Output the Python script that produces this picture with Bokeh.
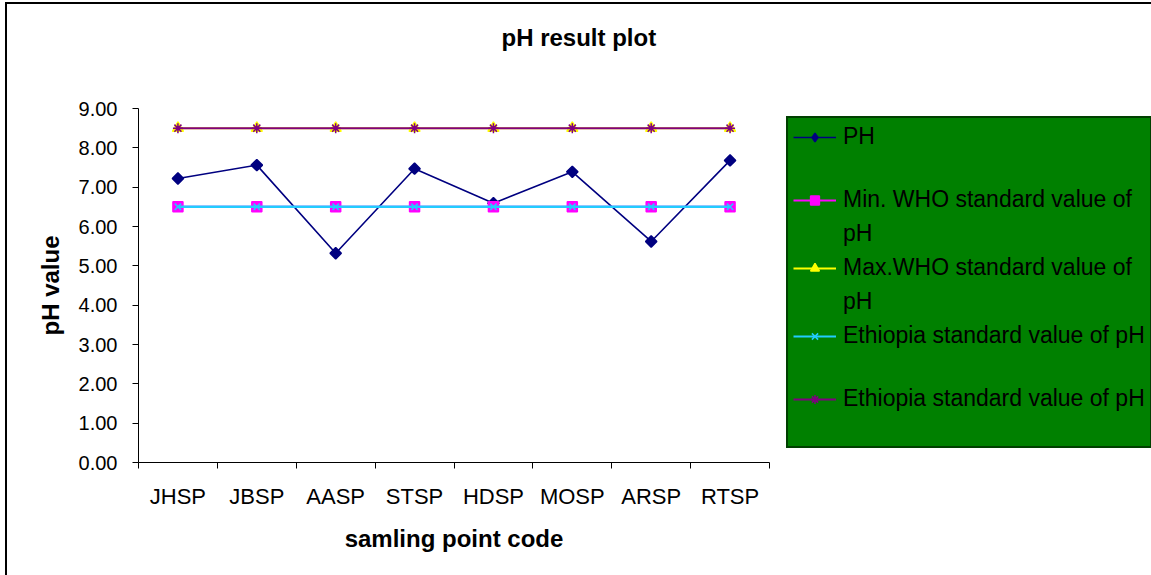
import math

from bokeh.plotting import figure
from bokeh.layouts import row
from bokeh.models import (FixedTicker, NumeralTickFormatter, Legend, LegendItem,
                          Range1d, Title)
from bokeh.embed import file_html
from bokeh.resources import INLINE

# sampling points and measured values
sites = ["JHSP", "JBSP", "AASP", "STSP", "HDSP", "MOSP", "ARSP", "RTSP"]
ph = [7.22, 7.56, 5.32, 7.47, 6.59, 7.39, 5.62, 7.68]
who_min = [6.5, 6.5, 6.5, 6.5, 6.5, 6.5, 6.5, 6.5]
who_max = [8.5, 8.5, 8.5, 8.5, 8.5, 8.5, 8.5, 8.5]
eth_min = [6.5, 6.5, 6.5, 6.5, 6.5, 6.5, 6.5, 6.5]
eth_max = [8.5, 8.5, 8.5, 8.5, 8.5, 8.5, 8.5, 8.5]
y_ticks = [0, 1, 2, 3, 4, 5, 6, 7, 8, 9]

FONT = "Liberation Sans"

# series styling: (legend label, colour, marker, marker size, marker angle,
#                  line width, legend key marker)
series = [
    ("PH", "#000080", "square", 8, math.pi / 4, 1.6, "diamond"),
    ("Min. WHO standard value of", "#FF00FF", "square", 10, 0, 2, "square"),
    ("Max.WHO standard value of", "#FFFF00", "triangle", 11, 0, 2, "triangle"),
    ("Ethiopia standard value of pH", "#22CCFF", "x", 9, 0, 2.5, "x"),
    ("Ethiopia standard value of pH", "#800080", "asterisk", 10, 0, 2, "asterisk"),
]
values = [ph, who_min, who_max, eth_min, eth_max]

# each sampling point sits in the middle of its own category slot
xs = [i + 0.5 for i in range(len(sites))]
slot_edges = list(range(len(sites) + 1))

p = figure(width=772, height=571, output_backend="svg", toolbar_location=None,
           x_range=Range1d(0, len(sites)), y_range=Range1d(0, 9),
           min_border_left=131, min_border_right=10,
           min_border_top=104, min_border_bottom=113,
           margin=(2, 0, 0, 2))
p.grid.visible = False
p.outline_line_color = None
p.background_fill_color = "white"
p.border_fill_color = "white"

# chart title, with a blank spacer title between it and the frame
p.title.text = "pH result plot"
p.title.align = "left"
p.title.offset = 363
p.title.text_font = FONT
p.title.text_font_size = "24px"
p.title.text_font_style = "bold"
p.title.text_color = "black"
p.add_layout(Title(text=" ", text_font_size="36px"), "above")

# x axis: labels centred in slots, tick marks on slot boundaries
xa = p.xaxis[0]
xa.ticker = FixedTicker(ticks=xs, minor_ticks=slot_edges)
xa.major_label_overrides = {x: s for x, s in zip(xs, sites)}
xa.major_tick_line_color = None
xa.major_tick_in = 0
xa.major_tick_out = 6
xa.minor_tick_in = 0
xa.minor_tick_out = 6
xa.minor_tick_line_color = "black"
xa.axis_line_color = "black"
xa.major_label_text_font = FONT
xa.major_label_text_font_size = "22px"
xa.major_label_text_color = "black"
xa.major_label_standoff = 15
xa.axis_label = "samling point code"
xa.axis_label_text_font = FONT
xa.axis_label_text_font_size = "24px"
xa.axis_label_text_font_style = "bold"
xa.axis_label_text_color = "black"
xa.axis_label_standoff = 13

ya = p.yaxis[0]
ya.ticker = FixedTicker(ticks=y_ticks)
ya.formatter = NumeralTickFormatter(format="0.00")
ya.major_tick_in = 0
ya.major_tick_out = 6
ya.minor_tick_line_color = None
ya.axis_line_color = "black"
ya.major_label_text_font = FONT
ya.major_label_text_font_size = "20px"
ya.major_label_text_color = "black"
ya.major_label_standoff = 15
ya.axis_label = "pH value"
ya.axis_label_text_font = FONT
ya.axis_label_text_font_size = "24px"
ya.axis_label_text_font_style = "bold"
ya.axis_label_text_color = "black"
ya.axis_label_standoff = 12

for (label, color, marker, size, angle, lw, _), vals in zip(series, values):
    p.line(xs, vals, line_color=color, line_width=lw)
    p.scatter(xs, vals, marker=marker, size=size, angle=angle, fill_color=color,
              line_color=color, line_width=1.5)

# legend panel beside the chart; its view range is kept away from the data so
# only the legend keys of these series copies are seen
q = figure(width=372, height=571, output_backend="svg", toolbar_location=None,
           x_range=Range1d(100, 101), y_range=Range1d(100, 101),
           x_axis_location=None, y_axis_location=None,
           min_border_left=0, min_border_right=0,
           min_border_top=0, min_border_bottom=0,
           margin=(2, 0, 0, 0))
q.grid.visible = False
q.outline_line_color = None
q.background_fill_color = "white"
q.border_fill_color = "white"

blank = q.line(xs, ph, line_alpha=0)


def key(label, color, marker, lw, vals):
    ln = q.line(xs, vals, line_color=color, line_width=lw)
    mk = q.scatter(xs, vals, marker=marker, fill_color=color, line_color=color,
                   line_width=1.5)
    return LegendItem(label=label, renderers=[ln, mk])


def filler(text=" "):
    return LegendItem(label=text, renderers=[blank])


keys = [key(s[0], s[1], s[6], min(s[5], 2), v) for s, v in zip(series, values)]
items = [keys[0], filler(),
         keys[1], filler("pH"),
         keys[2], filler("pH"),
         keys[3], filler(),
         keys[4], filler()]

legend = Legend(items=items, location=(7, 14), margin=0, padding=5, spacing=7,
                glyph_width=43, glyph_height=22, label_standoff=7,
                label_text_font=FONT, label_text_font_size="23px",
                label_text_color="black",
                background_fill_color="#008000", background_fill_alpha=1.0,
                border_line_color="black", border_line_width=2)
q.add_layout(legend, "center")

# chart border along the top and left edges
edge = ("linear-gradient(#000, #000) left top / 100% 2px no-repeat, "
        "linear-gradient(#000, #000) left top / 2px 100% no-repeat, #fff")
page = row(p, q, margin=(2, 0, 0, 5), styles={"background": edge})

open("out.html", "w").write(file_html(page, INLINE))
